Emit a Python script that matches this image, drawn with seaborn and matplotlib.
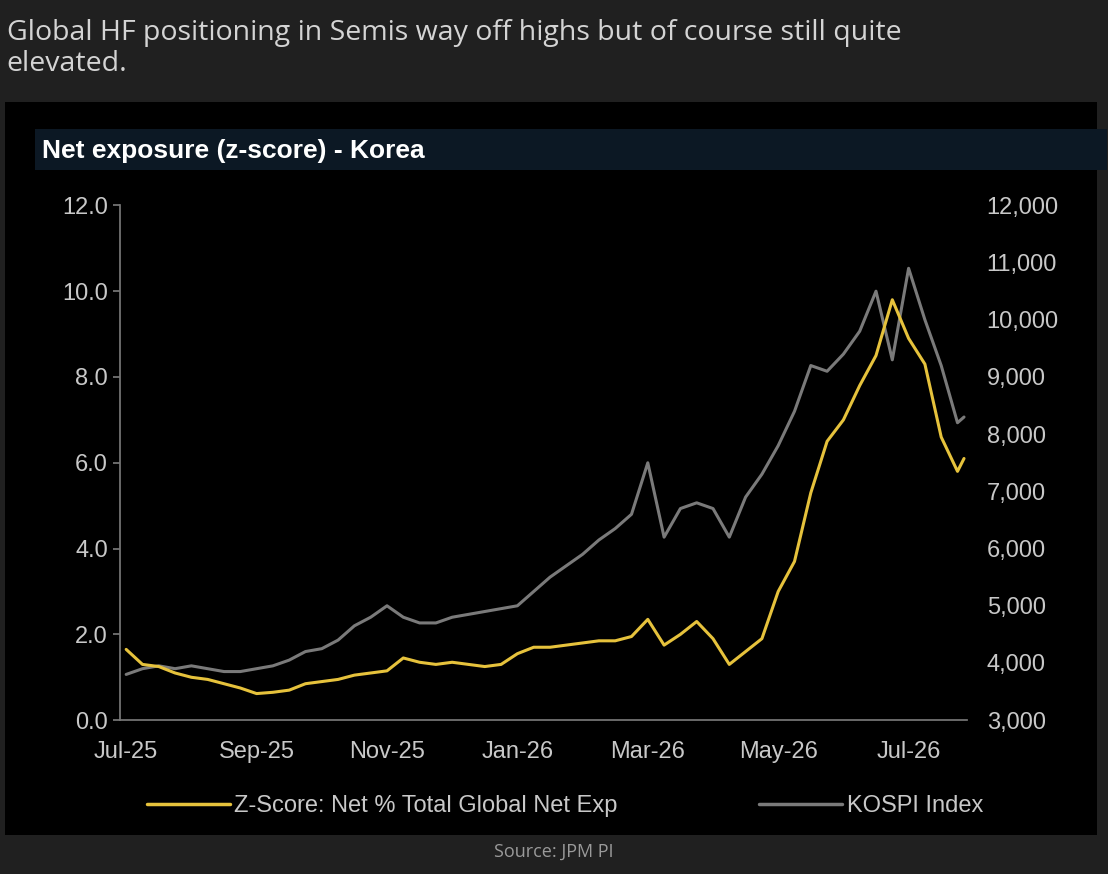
import numpy as np
import matplotlib
matplotlib.use("Agg")
import matplotlib.pyplot as plt
import seaborn as sns
from matplotlib.patches import Rectangle
from matplotlib.lines import Line2D

# months since Jul-25, step 0.25
months = [i * 0.25 for i in range(52)] + [12.85]
zscore = [1.65, 1.3, 1.25, 1.1, 1.0, 0.95, 0.85, 0.75, 0.62, 0.65, 0.7, 0.85,
          0.9, 0.95, 1.05, 1.1, 1.15, 1.45, 1.35, 1.3, 1.35, 1.3, 1.25, 1.3,
          1.55, 1.7, 1.7, 1.75, 1.8, 1.85, 1.85, 1.95, 2.35, 1.75, 2.0, 2.3,
          1.9, 1.3, 1.6, 1.9, 3.0, 3.7, 5.3, 6.5, 7.0, 7.8, 8.5, 9.8,
          8.9, 8.3, 6.6, 5.8, 6.1]
kospi = [3800, 3900, 3950, 3900, 3950, 3900, 3850, 3850, 3900, 3950, 4050, 4200,
         4250, 4400, 4650, 4800, 5000, 4800, 4700, 4700, 4800, 4850, 4900, 4950,
         5000, 5250, 5500, 5700, 5900, 6150, 6350, 6600, 7500, 6200, 6700, 6800,
         6700, 6200, 6900, 7300, 7800, 8400, 9200, 9100, 9400, 9800, 10500, 9300,
         10900, 10000, 9200, 8200, 8300]
tick_pos = [0, 2, 4, 6, 8, 10, 12]
tick_labels = ["Jul-25", "Sep-25", "Nov-25", "Jan-26", "Mar-26", "May-26", "Jul-26"]

sns.set_theme(style="dark")
plt.rcParams["font.family"] = ["Liberation Sans", "DejaVu Sans"]
txt = "#c8c8c8"

fig = plt.figure(figsize=(11.08, 8.74), dpi=100)
fig.patch.set_facecolor("#202020")
fig.patches.append(Rectangle((0.0045, 0.0446), 0.9856, 0.8387, transform=fig.transFigure,
                             facecolor="black", edgecolor="none", zorder=-10))
fig.patches.append(Rectangle((0.032, 0.806), 0.967, 0.046, transform=fig.transFigure,
                             facecolor="#0c1824", edgecolor="none", zorder=-9))
fig.text(0.006, 0.978, "Global HF positioning in Semis way off highs but of course still quite\nelevated.",
         color="#d4d4d4", fontsize=20.5, family="Open Sans", va="top", linespacing=1.15)
fig.text(0.038, 0.827, "Net exposure (z-score) - Korea", color="white", fontsize=19,
         fontweight="bold", va="center")
fig.text(0.5, 0.02, "Source: JPM PI", color="#9a9a9a", fontsize=13, family="Open Sans", ha="center")

ax = fig.add_axes([0.108, 0.176, 0.765, 0.589])
ax.set_facecolor("black")
ax2 = ax.twinx()
sns.lineplot(x=months, y=kospi, ax=ax2, color="#7a7a7a", linewidth=2.2)
sns.lineplot(x=months, y=zscore, ax=ax, color="#e6c23c", linewidth=2.2)
ax.set_zorder(ax2.get_zorder() + 1)
ax.patch.set_visible(False)

ax.set_xlim(-0.1, 12.9)
ax.set_ylim(0, 12)
ax2.set_ylim(3000, 12000)
ax.set_yticks(np.arange(0, 12.1, 2))
ax.set_yticklabels([f"{v:.1f}" for v in np.arange(0, 12.1, 2)])
ax2.set_yticks(range(3000, 12001, 1000))
ax2.set_yticklabels([f"{v:,}" for v in range(3000, 12001, 1000)])
ax.set_xticks(tick_pos)
ax.set_xticklabels(tick_labels)
for a in (ax, ax2):
    a.grid(False)
    for s in a.spines.values():
        s.set_visible(False)
    a.tick_params(colors=txt, labelsize=17, length=0)
ax.spines["left"].set_visible(True)
ax.spines["left"].set_color("#777777")
ax.spines["bottom"].set_visible(True)
ax.spines["bottom"].set_color("#777777")
ax.tick_params(axis="both", length=5, color="#777777", direction="out")
ax.tick_params(axis="x", pad=10)
ax2.tick_params(axis="y", pad=14, labelright=True)

handles = [Line2D([], [], color="#e6c23c", lw=2.5), Line2D([], [], color="#7a7a7a", lw=2.5)]
fig.legend(handles, ["Z-Score: Net % Total Global Net Exp", "KOSPI Index"], loc="center",
           bbox_to_anchor=(0.51, 0.078), ncol=2, frameon=False, fontsize=17,
           labelcolor=txt, columnspacing=6, handlelength=3.5, handletextpad=0.2)

fig.savefig("out.png", dpi=100, facecolor=fig.get_facecolor())
